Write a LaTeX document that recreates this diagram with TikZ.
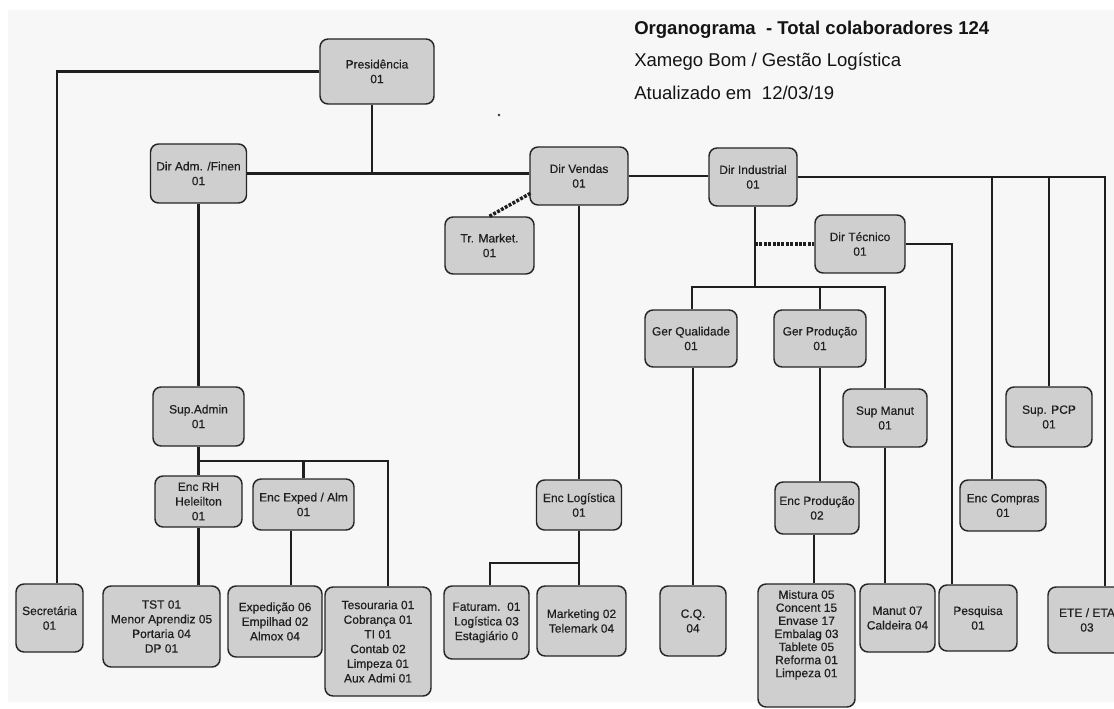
\documentclass[tikz,border=0pt]{standalone}
\usepackage{fontspec}
\setmainfont{Liberation Sans}
\newfontfamily\nodefont{Liberation Sans}[FakeBold=0.35]
\newcommand\ob[6]{\node[orgbox, minimum width=#4*0.75pt, minimum height=#5*0.75pt] (#1) at (#2,#3) {#6};}
\begin{document}
\begin{tikzpicture}[x=0.75pt,y=-0.75pt,
  orgbox/.style={draw=black!85, line width=1.1pt, rounded corners=6pt, fill=black!19,
    align=center, inner sep=0pt, text=black!88, font=\nodefont\fontsize{9}{11}\selectfont},
  con/.style={draw=black!88, line width=1.7pt},
  dotcon/.style={draw=black!88, line width=2.6pt, dash pattern=on 2.2pt off 1.1pt},
  ttl/.style={anchor=base west, text=black!92, inner sep=0pt}]
\useasboundingbox (0,0) rectangle (1114,709);
\clip (0,0) rectangle (1114,709);
\fill[white] (0,0) rectangle (1114,709);
\fill[black!3] (8,10) rectangle (1114,702);

% title
\node[ttl, font=\fontsize{13.9}{16}\selectfont\bfseries] (t1) at (634,35) {Organograma\ \ - Total colaboradores 124};
\node[ttl, font=\fontsize{13.9}{16}\selectfont] (t2) at (634,67) {Xamego Bom / Gestão Logística};
\node[ttl, font=\fontsize{13.9}{16}\selectfont] (t3) at (634,100) {Atualizado em\ \ 12/03/19};

% boxes
\ob{pres}{377}{71.5}{114}{65}{Presidência\\01}
\ob{dadm}{198.5}{173.5}{96}{59}{Dir Adm. /Finen\\01}
\ob{dvend}{579}{176}{98}{58}{Dir Vendas\\01}
\ob{dind}{753}{177}{88}{58}{Dir Industrial\\01}
\ob{trm}{489.5}{245.5}{89}{57}{Tr. Market.\\01}
\ob{dtec}{860}{244}{90}{58}{Dir Técnico\\01}
\ob{gqual}{691}{338.5}{92}{57}{Ger Qualidade\\01}
\ob{gprod}{820}{338.5}{92}{57}{Ger Produção\\01}
\ob{supman}{885}{418}{84}{58}{Sup Manut\\01}
\ob{suppcp}{1049}{417}{86}{60}{Sup. PCP\\01}
\ob{supadm}{198.5}{416.5}{91}{59}{Sup.Admin\\01}
\ob{encrh}{198.5}{501.5}{87}{51}{Enc RH\\Heleilton\\01}
\ob{encexp}{303.5}{504.5}{101}{51}{Enc Exped / Alm\\01}
\ob{enclog}{579}{505}{85}{50}{Enc Logística\\01}
\ob{encprod}{817}{508}{84}{52}{Enc Produção\\02}
\ob{enccomp}{1003}{505.5}{86}{51}{Enc Compras\\01}
\ob{sec}{49.5}{618}{67}{68}{Secretária\\01}
\ob{tst}{161.5}{626.5}{117}{81}{TST 01\\Menor Aprendiz 05\\Portaria 04\\DP 01}
\ob{exped}{275}{621.5}{94}{71}{Expedição 06\\Empilhad 02\\Almox 04}
\ob{tes}{378}{641.5}{106}{109}{Tesouraria 01\\Cobrança 01\\TI 01\\Contab 02\\Limpeza 01\\Aux Admi 01}
\ob{fat}{486.5}{622.5}{85}{73}{Faturam.\ \ 01\\Logística 03\\Estagiário 0}
\ob{mkt}{581.5}{621}{89}{70}{Marketing 02\\Telemark 04}
\ob{cq}{693}{621}{66}{70}{C.Q.\\04}
\node[orgbox, minimum width=97*0.75pt, minimum height=123*0.75pt, font=\nodefont\fontsize{9}{9.8}\selectfont] (mist) at (806.5,645.5) {Mistura 05\\Concent 15\\Envase 17\\Embalag 03\\Tablete 05\\Reforma 01\\Limpeza 01\\[8pt]};
\ob{manut}{897.5}{618}{75}{68}{Manut 07\\Caldeira 04}
\ob{pesq}{978}{618}{78}{66}{Pesquisa\\01}
\ob{ete}{1087}{620}{78}{66}{ETE / ETA\\03}

% junction coordinates
\coordinate (jS) at (57,71.5);
\coordinate (jP) at (372,173.5);
\coordinate (jE) at (1105,177);
\coordinate (jC) at (992,177);
\coordinate (jF) at (1049,177);
\coordinate (jA) at (198.5,461);
\coordinate (jT) at (388,461);
\coordinate (jX) at (291,530);
\coordinate (jL) at (490,563);
\coordinate (jI) at (755,287);
\coordinate (jQ) at (692,287);
\coordinate (jM) at (885,287);
\coordinate (jR) at (952,243);
\coordinate (jK) at (814,534);
\coordinate (jV) at (531,193);

% connectors
\draw[con] (pres.west) -- (jS) -- (sec.north -| jS);
\draw[con] (pres.south -| jP) -- (jP);
\draw[con] (dadm.east) -- (dadm.east -| dvend.west);
\draw[con] (dvend.east) -- (dvend.east -| dind.west);
\draw[con] (dind.east) -- (jE) -- (ete.north -| jE);
\draw[con] (jC) -- (enccomp.north -| jC);
\draw[con] (jF) -- (suppcp.north);
\draw[con] (dadm.south) -- (supadm.north);
\draw[con] (supadm.south) -- (encrh.north);
\draw[con] (jA) -- (jT) -- (tes.north -| jT);
\draw[con] (encexp.north |- jA) -- (encexp.north);
\draw[con] (encrh.south) -- (encrh.south |- tst.north);
\draw[con] (encexp.south -| jX) -- (exped.north -| jX);
\draw[con] (dvend.south) -- (dvend.south |- enclog.north);
\draw[con] (enclog.south) -- (enclog.south |- mkt.north);
\draw[con] (enclog.south |- jL) -- (jL) -- (fat.north -| jL);
\draw[con] (dind.south -| jI) -- (jI);
\draw[con] (gqual.north -| jQ) -- (jQ) -- (jM) -- (supman.north -| jM);
\draw[con] (gprod.north) -- (gprod.north |- jQ);
\draw[dotcon] (dtec.west -| jI) -- (dtec.west);
\draw[con] (dtec.east) -- (dtec.east -| jR) -- (pesq.north -| jR);
\draw[con] (gqual.south -| cq.north) -- (cq.north);
\draw[con] (gprod.south) -- (gprod.south |- encprod.north);
\draw[con] (encprod.south -| jK) -- (mist.north -| jK);
\draw[con] (supman.south) -- (supman.south |- manut.north);
\draw[dotcon] (trm.north) -- (jV);
\fill[black!80] (499,115) circle (1.1pt);
\end{tikzpicture}
\end{document}
